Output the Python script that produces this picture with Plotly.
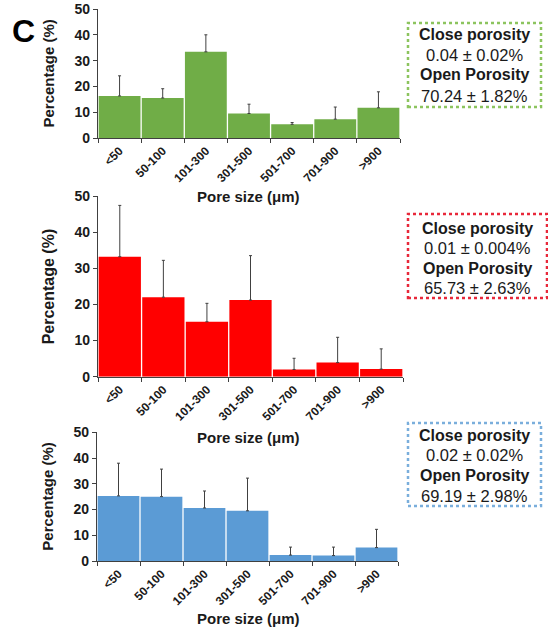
import plotly.graph_objects as go

categories = ["<50", "50-100", "101-300", "301-500", "501-700", "701-900", ">900"]
green_vals = [16.3, 15.5, 33.4, 9.5, 5.3, 7.3, 11.7]
green_err = [7.8, 3.6, 6.6, 3.6, 0.7, 4.7, 6.2]
red_vals = [33.2, 22.0, 15.2, 21.2, 2.0, 3.9, 2.1]
red_err = [14.2, 10.2, 5.1, 12.3, 3.1, 7.0, 5.6]
blue_vals = [25.3, 25.0, 20.6, 19.5, 2.3, 2.1, 5.2]
blue_err = [12.7, 10.7, 6.6, 12.7, 3.1, 3.3, 7.1]

box_texts = [
    ["Close porosity", "0.04 ± 0.02%", "Open Porosity", "70.24 ± 1.82%"],
    ["Close porosity", "0.01 ± 0.004%", "Open Porosity", "65.73 ± 2.63%"],
    ["Close porosity", "0.02 ± 0.02%", "Open Porosity", "69.19 ± 2.98%"],
]

W, H = 548, 641
FONT = "Liberation Sans, Arial, sans-serif"
AX = "#404040"
TXT = "#1a1a1a"

def px_x(v):
    return v / W

def px_y(v):
    return 1 - v / H

panels = [
    dict(vals=green_vals, err=green_err, color="#70AD47", border="#8CC45E",
         x=(98, 400), y=(138, 9), xt=196, yt=15, box=(408, 541, 23, 107), lines=(34, 55, 75, 96)),
    dict(vals=red_vals, err=red_err, color="#FF0000", border="#E8283A",
         x=(98, 403), y=(376.7, 196), xt=437, yt=16, box=(408, 547, 214, 298), lines=(228, 248, 268, 288)),
    dict(vals=blue_vals, err=blue_err, color="#5B9BD5", border="#7AAEDC",
         x=(97, 398), y=(561, 432.3), xt=618, yt=15, box=(408, 541, 423, 506), lines=(435, 455, 475, 496)),
]

fig = go.Figure()
annotations = []
shapes = []
layout = {}
for i, p in enumerate(panels):
    n = "" if i == 0 else str(i + 1)
    fig.add_trace(go.Bar(
        x=categories, y=p["vals"], marker=dict(color=p["color"], line=dict(width=0)),
        error_y=dict(type="data", array=p["err"], arrayminus=[0] * len(p["err"]),
                     symmetric=False, color=AX, thickness=1, width=1.5),
        xaxis="x" + n, yaxis="y" + n, showlegend=False,
    ))
    layout["xaxis" + n] = dict(
        domain=[px_x(p["x"][0]), px_x(p["x"][1])], anchor="y" + n, automargin=False,
        type="category", tickson="boundaries", ticks="outside", ticklen=4,
        tickcolor=AX, showline=True, linecolor=AX, linewidth=1.2,
        tickangle=-45, tickfont=dict(family=FONT, size=12, color=TXT, weight="bold"),
        showgrid=False, zeroline=False, fixedrange=True,
    )
    layout["yaxis" + n] = dict(
        domain=[px_y(p["y"][0]), px_y(p["y"][1])], anchor="x" + n, automargin=False,
        range=[0, 50], dtick=10, ticks="outside", ticklen=4, tickcolor=AX,
        showline=True, linecolor=AX, linewidth=1.2, showgrid=False, zeroline=False,
        tickfont=dict(family=FONT, size=14, color=TXT, weight="bold"), fixedrange=True,
    )
    ymid = (p["y"][0] + p["y"][1]) / 2
    annotations.append(dict(
        text="<b>Percentage (%)</b>", x=px_x(48), y=px_y(ymid), xref="paper", yref="paper",
        textangle=-90, showarrow=False, font=dict(family=FONT, size=p["yt"], color=TXT),
        xanchor="center", yanchor="middle",
    ))
    annotations.append(dict(
        text="<b>Pore size (μm)</b>", x=px_x(249), y=px_y(p["xt"]), xref="paper", yref="paper",
        showarrow=False, font=dict(family=FONT, size=15, color=TXT),
        xanchor="center", yanchor="middle",
    ))
    bx0, bx1, by0, by1 = p["box"]
    shapes.append(dict(
        type="rect", xref="paper", yref="paper",
        x0=px_x(bx0), x1=px_x(bx1), y0=px_y(by1), y1=px_y(by0),
        line=dict(color=p["border"], width=2.5, dash="dot"),
    ))
    cx = (bx0 + bx1) / 2
    for j, (t, ly) in enumerate(zip(box_texts[i], p["lines"])):
        annotations.append(dict(
            text=("<b>%s</b>" % t) if j % 2 == 0 else t,
            x=px_x(cx), y=px_y(ly), xref="paper", yref="paper", showarrow=False,
            font=dict(family=FONT, size=16 if j % 2 == 0 else 16.5, color=TXT),
            xanchor="center", yanchor="middle",
        ))

annotations.append(dict(
    text="<b>C</b>", x=px_x(23), y=px_y(31), xref="paper", yref="paper", showarrow=False,
    font=dict(family=FONT, size=32, color="#000000"), xanchor="center", yanchor="middle",
))

fig.update_layout(
    width=W, height=H, margin=dict(l=0, r=0, t=0, b=0, pad=0, autoexpand=False),
    paper_bgcolor="white", plot_bgcolor="white", bargap=0.03,
    annotations=annotations, shapes=shapes, **layout,
)

fig.write_html(
    "out.html", config={"displayModeBar": False},
    post_script="document.body.style.margin='0';document.body.style.overflow='hidden';",
)
